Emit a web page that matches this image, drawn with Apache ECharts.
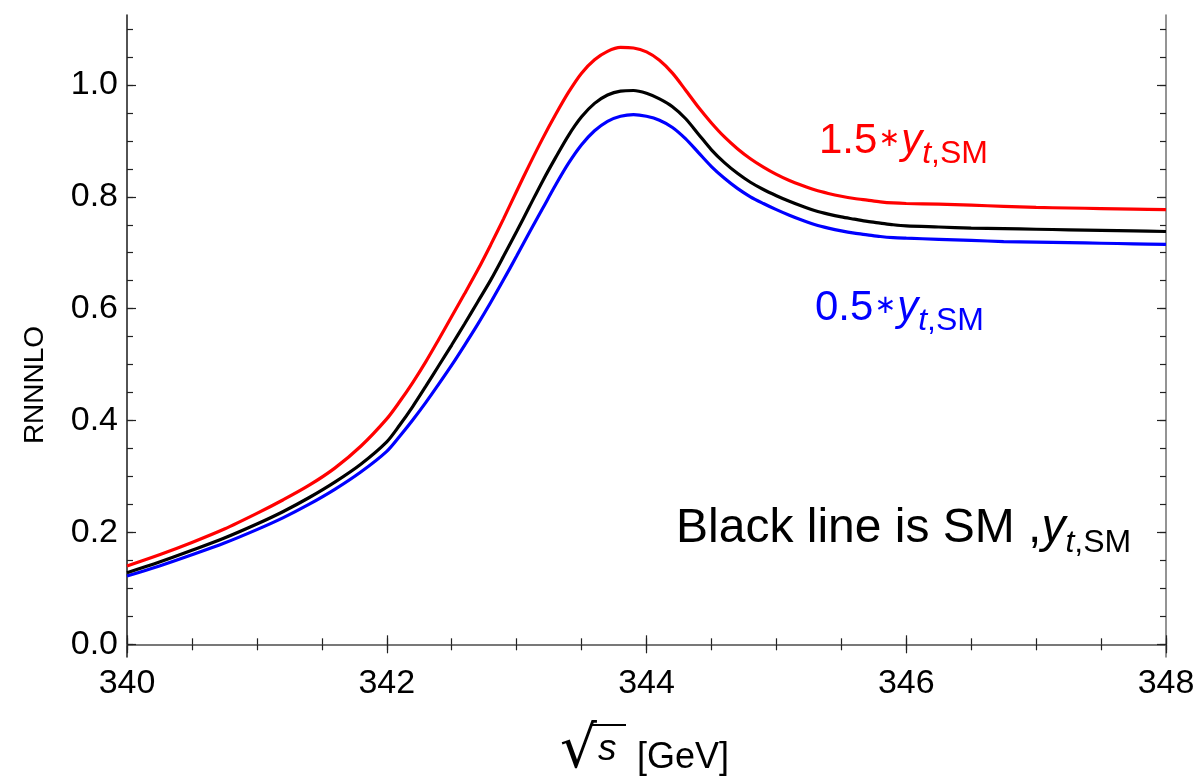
<!DOCTYPE html>
<html>
<head>
<meta charset="utf-8">
<script src="https://cdn.jsdelivr.net/npm/echarts@6/dist/echarts.min.js"></script>
<style>
  html, body { margin: 0; padding: 0; background: #fff; }
  #chart { width: 1203px; height: 781px; }
</style>
</head>
<body>
<div id="chart"></div>
<script>
// Collision energy sqrt(s) in GeV (finer steps through the threshold peak)
const energies = [
  340, 340.25, 340.5, 340.75, 341.0, 341.2, 341.4, 341.6, 341.8,
  342.0, 342.1, 342.2, 342.3, 342.4, 342.5, 342.6, 342.7, 342.8, 342.9,
  343.0, 343.1, 343.2, 343.3, 343.4, 343.5, 343.6, 343.7, 343.8, 343.9,
  344.0, 344.1, 344.2, 344.3, 344.4, 344.5, 344.6, 344.7, 344.8, 344.9,
  345.0, 345.1, 345.2, 345.3, 345.4, 345.5, 345.6, 345.7, 345.8, 345.9,
  346.0, 346.25, 346.5, 346.75, 347, 347.25, 347.5, 347.75, 348
];

// RNNNLO for the SM top Yukawa coupling (black)
const ratioSM = [
  0.128, 0.147, 0.168, 0.190, 0.215, 0.237, 0.262, 0.290, 0.322,
  0.362, 0.392, 0.425, 0.461, 0.498, 0.535, 0.573, 0.612, 0.651, 0.694,
  0.738, 0.783, 0.828, 0.870, 0.910, 0.943, 0.967, 0.982, 0.989, 0.990,
  0.985, 0.975, 0.961, 0.940, 0.912, 0.884, 0.861, 0.842, 0.826, 0.813,
  0.802, 0.792, 0.783, 0.775, 0.769, 0.764, 0.760, 0.756, 0.753, 0.750,
  0.748, 0.746, 0.744, 0.743, 0.742, 0.741, 0.740, 0.739, 0.738
];

// RNNNLO for 1.5 * y_t,SM (red)
const ratioHigh = [
  0.140, 0.160, 0.182, 0.206, 0.234, 0.258, 0.284, 0.315, 0.354,
  0.403, 0.434, 0.468, 0.505, 0.545, 0.586, 0.627, 0.669, 0.714, 0.761,
  0.810, 0.858, 0.904, 0.947, 0.987, 1.021, 1.045, 1.060, 1.067, 1.066,
  1.059, 1.044, 1.021, 0.991, 0.960, 0.932, 0.907, 0.886, 0.868, 0.853,
  0.840, 0.829, 0.820, 0.812, 0.806, 0.801, 0.797, 0.794, 0.791, 0.789,
  0.788, 0.787, 0.785, 0.783, 0.781, 0.780, 0.779, 0.778, 0.777
];

// RNNNLO for 0.5 * y_t,SM (blue)
const ratioLow = [
  0.122, 0.140, 0.160, 0.181, 0.205, 0.226, 0.250, 0.277, 0.308,
  0.345, 0.372, 0.401, 0.432, 0.465, 0.499, 0.535, 0.572, 0.611, 0.652,
  0.694, 0.737, 0.779, 0.821, 0.860, 0.893, 0.918, 0.935, 0.944, 0.947,
  0.944, 0.937, 0.924, 0.904, 0.879, 0.854, 0.833, 0.815, 0.800, 0.788,
  0.777, 0.767, 0.758, 0.750, 0.744, 0.739, 0.735, 0.732, 0.729, 0.727,
  0.726, 0.724, 0.722, 0.720, 0.719, 0.718, 0.717, 0.716, 0.715
];

// Axis ticks
const yLabelValues = [0, 0.2, 0.4, 0.6, 0.8, 1.0];
const yMinorValues = [0, 0.05, 0.1, 0.15, 0.2, 0.25, 0.3, 0.35, 0.4, 0.45, 0.5, 0.55, 0.6, 0.65, 0.7, 0.75, 0.8, 0.85, 0.9, 0.95, 1.0, 1.05, 1.1];

const X_MIN = 340, X_MAX = 348;
const Y_MIN = -0.0227, Y_MAX = 1.125;

const FONT = '"Liberation Sans", Arial, sans-serif';
const FRAME = '#707070';
const TICK = '#222';

const pairs = (ys) => energies.map((x, i) => [x, ys[i]]);

const gridBox = { left: 127, top: 15, right: 37, bottom: 124 };

function xAxisDef(gridIndex, position, interval, tickLen, showLabel, showLine) {
  return {
    type: 'value', gridIndex, position, min: X_MIN, max: X_MAX, interval,
    axisLine: { show: showLine, lineStyle: { color: FRAME, width: 1.5 } },
    axisTick: { show: true, inside: true, length: tickLen, lineStyle: { color: TICK, width: 1.2 } },
    axisLabel: { show: showLabel, color: '#000', fontFamily: FONT, fontSize: 34, margin: 10 },
    splitLine: { show: false }
  };
}

function yAxisDef(gridIndex, position, tickValues, tickLen, showLabel, showLine, lineColor) {
  return {
    type: 'value', gridIndex, position, min: Y_MIN, max: Y_MAX,
    axisLine: { show: showLine, lineStyle: { color: lineColor, width: 1.5 } },
    axisTick: { show: true, inside: true, length: tickLen, customValues: tickValues, lineStyle: { color: TICK, width: 1.2 } },
    axisLabel: {
      show: showLabel, customValues: yLabelValues, color: '#000', fontFamily: FONT, fontSize: 34, margin: 9,
      formatter: (v) => v.toFixed(1)
    },
    splitLine: { show: false }
  };
}

// Rich-text styles for labels such as "1.5∗y_t,SM"
function annotationRich(color, size, subSize, subPad, starSize) {
  return {
    n: { fontFamily: FONT, fontSize: size, lineHeight: size, fill: color, verticalAlign: 'top' },
    st: { fontFamily: '"DejaVu Sans", sans-serif', fontSize: starSize, lineHeight: starSize, fill: color, verticalAlign: 'top', padding: [(size - starSize) / 2 - 2, 1, 0, 1] },
    i: { fontFamily: FONT, fontSize: size, lineHeight: size, fill: color, fontStyle: 'italic', verticalAlign: 'top' },
    si: { fontFamily: FONT, fontSize: subSize, lineHeight: subSize, fill: color, fontStyle: 'italic', verticalAlign: 'top', padding: [subPad, 0, 0, 0] },
    s: { fontFamily: FONT, fontSize: subSize, lineHeight: subSize, fill: color, verticalAlign: 'top', padding: [subPad, 0, 0, 0] }
  };
}

const chart = echarts.init(document.getElementById('chart'), null, { renderer: 'canvas' });

const lineSeries = (name, ys, color, z) => ({
  name, type: 'line', xAxisIndex: 0, yAxisIndex: 0, data: pairs(ys),
  smooth: 0.3, showSymbol: false,
  lineStyle: { color, width: 3.2 }, z
});

chart.setOption({
  backgroundColor: '#fff',
  animation: false,
  grid: [
    Object.assign({}, gridBox),
    Object.assign({}, gridBox)
  ],
  xAxis: [
    xAxisDef(0, 'bottom', 2, 9, true, true),
    xAxisDef(0, 'top', 2, 9, false, true),
    xAxisDef(1, 'bottom', 0.5, 6, false, false),
    xAxisDef(1, 'top', 0.5, 6, false, false)
  ],
  yAxis: [
    yAxisDef(0, 'left', yLabelValues, 9, true, true, '#1a1a1a'),
    yAxisDef(0, 'right', yLabelValues, 9, false, true, FRAME),
    yAxisDef(1, 'left', yMinorValues, 6, false, false, FRAME),
    yAxisDef(1, 'right', yMinorValues, 6, false, false, FRAME)
  ],
  series: [
    lineSeries('1.5 y_t,SM', ratioHigh, '#ff0000', 3),
    lineSeries('SM', ratioSM, '#000000', 4),
    lineSeries('0.5 y_t,SM', ratioLow, '#0000ff', 3)
  ],
  graphic: [
    // y-axis title
    {
      type: 'text', x: 35, y: 385, rotation: Math.PI / 2,
      style: { text: 'RNNNLO', fontFamily: FONT, fontSize: 28, fill: '#000', align: 'center', verticalAlign: 'middle' }
    },
    // x-axis title: √s [GeV]
    {
      type: 'text', x: 560, y: 781, style: { text: '√', fontFamily: '"DejaVu Sans", sans-serif', fontSize: 58, fill: '#000', align: 'left', verticalAlign: 'bottom' }
    },
    {
      type: 'line', shape: { x1: 590, y1: 725, x2: 626, y2: 725 }, style: { stroke: '#000', lineWidth: 2 }
    },
    {
      type: 'text', x: 598, y: 768, style: { text: 's', fontFamily: FONT, fontSize: 37, fontStyle: 'italic', fill: '#000', align: 'left', verticalAlign: 'bottom' }
    },
    {
      type: 'text', x: 637, y: 758, style: { text: '[GeV]', fontFamily: FONT, fontSize: 36, fill: '#000', align: 'left', verticalAlign: 'middle' }
    },
    // curve annotations
    {
      type: 'text', x: 819, y: 120,
      style: { text: '{n|1.5}{st|∗}{i|y}{si|t}{s|,SM}', rich: annotationRich('#ff0000', 42, 32, 18, 26), align: 'left', verticalAlign: 'top' }
    },
    {
      type: 'text', x: 815, y: 287,
      style: { text: '{n|0.5}{st|∗}{i|y}{si|t}{s|,SM}', rich: annotationRich('#0000ff', 42, 32, 18, 26), align: 'left', verticalAlign: 'top' }
    },
    {
      type: 'text', x: 676, y: 505,
      style: { text: '{n|Black line is SM ,}{i|y}{si|t}{s|,SM}', rich: annotationRich('#000000', 48, 32, 22, 30), align: 'left', verticalAlign: 'top' }
    }
  ]
});
</script>
</body>
</html>
